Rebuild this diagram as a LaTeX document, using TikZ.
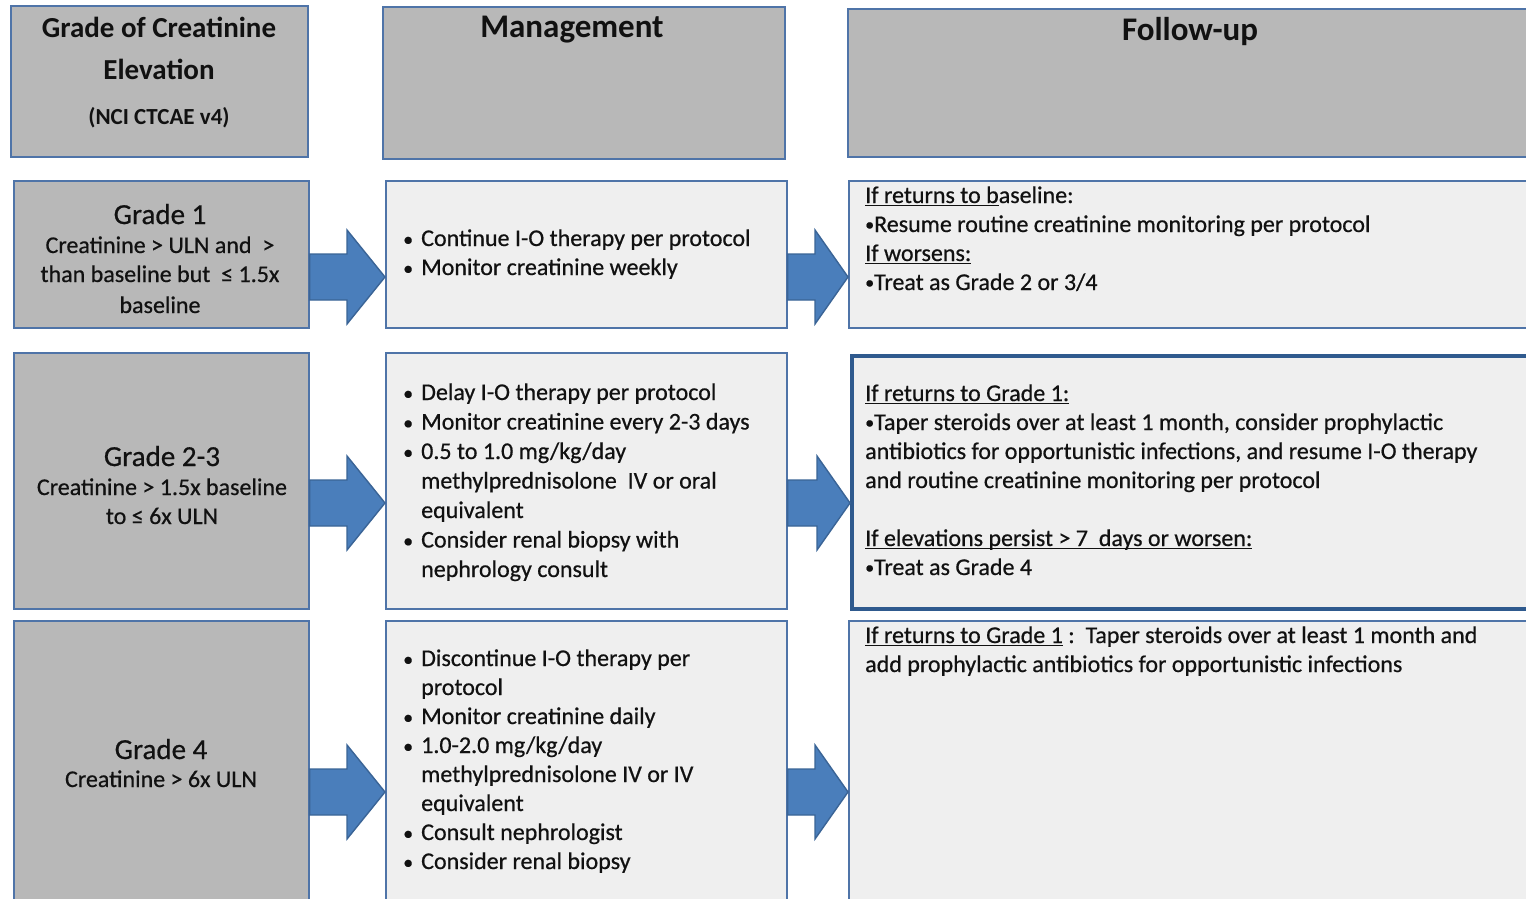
\documentclass[tikz,border=0pt]{standalone}
\usepackage{fontspec}
\setmainfont{Carlito}[UprightFeatures={FakeBold=0.6}]
\usetikzlibrary{calc}

\definecolor{hdrgray}{HTML}{B8B8B8}
\definecolor{paneback}{HTML}{EFEFEF}
\definecolor{edgeblue}{HTML}{4F74A8}
\definecolor{deepblue}{HTML}{2F5A8E}
\definecolor{arrowfill}{HTML}{4A7EBB}
\definecolor{arrowedge}{HTML}{3A6496}
\definecolor{ink}{HTML}{111111}

% underline that sits just below the baseline and crosses descenders
\newlength\ulwidth
\newcommand\ul[1]{\leavevmode\settowidth{\ulwidth}{#1}\rlap{\rule[-3pt]{\ulwidth}{1.2pt}}#1}
% list bullet with hanging indent
\newcommand\mb{\makebox[18pt][l]{\fontsize{20pt}{20pt}\selectfont •}}
\newcommand\mi{\hspace*{18pt}}
% inline bullet of the follow-up notes
\newcommand\fb{\leavevmode\raisebox{1.5pt}{\fontsize{18pt}{18pt}\selectfont •}}

\tikzset{
  panel/.style={draw=edgeblue, line width=1.6pt, inner sep=0pt, anchor=north west},
  graypanel/.style={panel, fill=hdrgray},
  lightpanel/.style={panel, fill=paneback},
  txt/.style={inner sep=0pt, text=ink, font=\fontsize{24pt}{29pt}\selectfont},
  blockarrow/.style={fill=arrowfill, draw=arrowedge, line width=1.4pt, line join=miter},
}

% block arrow from #1 to #2, head length #3
\newcommand\blockarrow[3]{%
  \path[blockarrow] let \p1=(#1), \p2=(#2) in
    (\x1,\y1+23pt) -- (\x2-#3,\y1+23pt) -- (\x2-#3,\y1+47pt) -- (\x2,\y1)
    -- (\x2-#3,\y1-47pt) -- (\x2-#3,\y1-23pt) -- (\x1,\y1-23pt) -- cycle;}

\begin{document}
\begin{tikzpicture}[x=1pt,y=-1pt]
\useasboundingbox (0,0) rectangle (1526,899);
\clip (0,0) rectangle (1526,899);
\fill[white] (0,0) rectangle (1526,899);

% header row
\node[graypanel, minimum width=297pt, minimum height=151pt] (hdrA) at (10,5) {};
\node[graypanel, minimum width=402pt, minimum height=152pt] (hdrB) at (382,6) {};
\node[graypanel, minimum width=685pt, minimum height=148pt] (hdrC) at (847,8) {};

% grade 1 row
\node[graypanel, minimum width=295pt, minimum height=147pt] (g1) at (13,180) {};
\node[lightpanel, minimum width=401pt, minimum height=147pt] (m1) at (385,180) {};
\node[lightpanel, minimum width=684pt, minimum height=147pt] (f1) at (848,180) {};

% grade 2-3 row
\node[graypanel, minimum width=295pt, minimum height=256pt] (g2) at (13,352) {};
\node[lightpanel, minimum width=401pt, minimum height=256pt] (m2) at (385,352) {};
\node[lightpanel, draw=deepblue, line width=4pt, minimum width=683pt, minimum height=253pt] (f2) at (850,354) {};

% grade 4 row
\node[graypanel, minimum width=295pt, minimum height=300pt] (g3) at (13,620) {};
\node[lightpanel, minimum width=401pt, minimum height=300pt] (m3) at (385,620) {};
\node[lightpanel, minimum width=684pt, minimum height=300pt] (f3) at (848,620) {};

% arrow levels
\coordinate (r1) at (0,277);
\coordinate (r2) at (0,503);
\coordinate (r3) at (0,792);

\blockarrow{g1.east |- r1}{m1.west |- r1}{38pt}
\blockarrow{m1.east |- r1}{f1.west |- r1}{33pt}
\blockarrow{g2.east |- r2}{m2.west |- r2}{38pt}
\blockarrow{m2.east |- r2}{f2.west |- r2}{33pt}
\blockarrow{g3.east |- r3}{m3.west |- r3}{38pt}
\blockarrow{m3.east |- r3}{f3.west |- r3}{33pt}

% header texts
\node[txt, anchor=base] (hdrAtext) at (159,38) {\parbox[t]{290pt}{\centering
  \fontsize{29pt}{29pt}\selectfont\bfseries Grade of Creatinine\\[12pt]
  Elevation\\[16pt]
  \fontsize{23pt}{29pt}\selectfont (NCI CTCAE v4)}};
\node[txt, anchor=base] (hdrBtext) at (572,38) {\fontsize{33pt}{33pt}\selectfont\bfseries Management};
\node[txt, anchor=base] (hdrCtext) at (1190,41) {\fontsize{33pt}{33pt}\selectfont\bfseries Follow-up};

% grade texts
\node[txt, anchor=base] (g1text) at (160,224) {\parbox[t]{294pt}{\centering
  {\fontsize{29pt}{29pt}\selectfont Grade 1}\\
  Creatinine > ULN and\ \ >\\
  than baseline but\ \ ≤ 1.5x\\[2pt]
  baseline}};
\node[txt, anchor=base] (g2text) at (162,466) {\parbox[t]{294pt}{\centering
  {\fontsize{29pt}{29pt}\selectfont Grade 2-3}\\
  Creatinine > 1.5x baseline\\
  to ≤ 6x ULN}};
\node[txt, anchor=base] (g3text) at (161,759) {\parbox[t]{294pt}{\centering
  {\fontsize{29pt}{29pt}\selectfont Grade 4}\\[-1pt]
  Creatinine > 6x ULN}};

% management texts
\node[txt, anchor=base west] (m1text) at (403,246) {\parbox[t]{378pt}{\raggedright
  \mb Continue I-O therapy per protocol\\
  \mb Monitor creatinine weekly}};
\node[txt, anchor=base west, font=\fontsize{24pt}{29.5pt}\selectfont] (m2text) at (403,400) {\parbox[t]{378pt}{\raggedright
  \mb Delay I-O therapy per protocol\\
  \mb Monitor creatinine every 2-3 days\\
  \mb 0.5 to 1.0 mg/kg/day\\
  \mi methylprednisolone\ \ IV or oral\\
  \mi equivalent\\
  \mb Consider renal biopsy with\\
  \mi nephrology consult}};
\node[txt, anchor=base west] (m3text) at (403,666) {\parbox[t]{378pt}{\raggedright
  \mb Discontinue I-O therapy per\\
  \mi protocol\\
  \mb Monitor creatinine daily\\
  \mb 1.0-2.0 mg/kg/day\\
  \mi methylprednisolone IV or IV\\
  \mi equivalent\\
  \mb Consult nephrologist\\
  \mb Consider renal biopsy}};

% follow-up texts
\node[txt, anchor=base west] (f1text) at (865,203) {\parbox[t]{650pt}{\raggedright
  \ul{If returns to b}aseline:\\
  \fb Resume routine creatinine monitoring per protocol\\
  \ul{If worsens:}\\
  \fb Treat as Grade 2 or 3/4}};
\node[txt, anchor=base west] (f2text) at (865,401) {\parbox[t]{650pt}{\raggedright
  \ul{If returns to Grade 1:}\\
  \fb Taper steroids over at least 1 month, consider prophylactic\\
  antibiotics for opportunistic infections, and resume I-O therapy\\
  and routine creatinine monitoring per protocol\\[29pt]
  \ul{If elevations persist > 7\ \ days or worsen:}\\
  \fb Treat as Grade 4}};
\node[txt, anchor=base west] (f3text) at (865,643) {\parbox[t]{650pt}{\raggedright
  \ul{If returns to Grade 1} :\ \ Taper steroids over at least 1 month and\\
  add prophylactic antibiotics for opportunistic infections}};
\end{tikzpicture}
\end{document}
